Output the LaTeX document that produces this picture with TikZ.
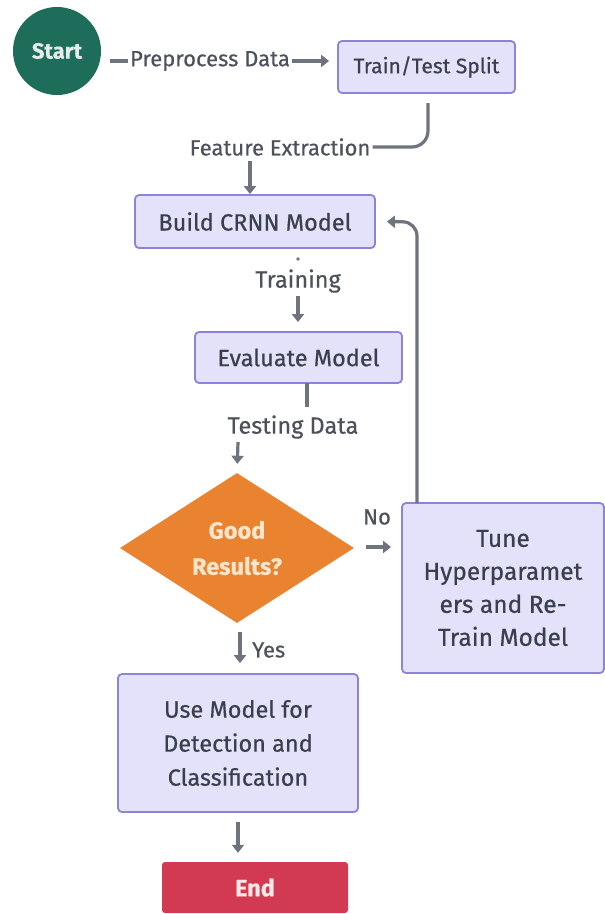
\documentclass[tikz,border=0pt]{standalone}
\usepackage{fontspec}
\setmainfont{Fira Sans}[FakeBold=0.5]
\usetikzlibrary{arrows.meta,shapes.geometric}
\definecolor{boxfill}{HTML}{E4E2FA}
\definecolor{boxdraw}{HTML}{8C84D8}
\definecolor{txt}{HTML}{3A3F4C}
\definecolor{lbl}{HTML}{4C515B}
\definecolor{arr}{HTML}{6E737D}
\definecolor{teal}{HTML}{1E6D5B}
\definecolor{orng}{HTML}{E9832F}
\definecolor{crim}{HTML}{D23A52}
\begin{document}
\begin{tikzpicture}[x=1pt,y=-1pt,
  box/.style={draw=boxdraw,fill=boxfill,line width=1.8pt,rounded corners=4pt,text=txt,font=\fontsize{23.5}{34}\selectfont,align=center,inner sep=0pt},
  lab/.style={text=lbl,font=\fontsize{22}{26}\selectfont,inner sep=2pt},
  conn/.style={draw=arr,line width=3.2pt},
  arrw/.style={conn,-{Triangle[length=8pt,width=12pt]}}]
\useasboundingbox (0,0) rectangle (605,914);
% nodes
\node[circle,fill=teal,minimum size=88pt,inner sep=0pt,text=white!88!teal,font=\fontsize{22}{26}\selectfont\bfseries] (start) at (57,51) {Start};
\node[lab] (pp) at (210,61) {Preprocess Data};
\node[box,minimum width=177pt,minimum height=52pt,font=\fontsize{21}{26}\selectfont] (tts) at (426.5,67) {Train/Test Split};
\node[lab] (fe) at (280,147) {Feature Extraction};
\node[box,minimum width=240pt,minimum height=53pt] (build) at (255,221.5) {Build CRNN Model};
\node[lab,font=\fontsize{23.5}{26}\selectfont] (tr) at (298,281) {Training};
\node[box,minimum width=207pt,minimum height=51pt] (eval) at (298.5,357.5) {Evaluate Model};
\node[lab,font=\fontsize{23.5}{26}\selectfont] (td) at (293,427) {Testing Data};
\node[diamond,fill=orng,minimum width=234pt,minimum height=150pt,inner sep=0pt,aspect=1.56,text=white!80!orange,font=\fontsize{23.5}{36}\selectfont\bfseries,align=center] (dec) at (237,548) {Good\\Results?};
\node[box,minimum width=202pt,minimum height=170pt,font=\fontsize{24.5}{33}\selectfont] (tune) at (503,588) {Tune\\Hyperparamet\\ers and Re-\\Train Model};
\node[lab] (no) at (377,517) {No};
\node[lab,anchor=west] (yes) at (250,650) {Yes};
\node[box,minimum width=240pt,minimum height=138pt] (use) at (238,743) {Use Model for\\Detection and\\Classification};
\node[fill=crim,rounded corners=3pt,minimum width=186pt,minimum height=51pt,inner sep=0pt,text=white!88!crim,font=\fontsize{23.5}{26}\selectfont\bfseries] (end) at (255,887.5) {End};
% connectors
\coordinate (c1) at (110,61);
\draw[conn] (c1) -- (pp.west);
\draw[arrw,shorten >=8pt] (pp.east) -- (tts.west |- pp.east);
\coordinate (c2) at (428,103);
\draw[conn,rounded corners=16pt] (c2) -- (428,147) -- (fe.east);
\coordinate (c3) at (250,161);
\draw[arrw] (c3) -- (c3 |- build.north);
\fill[arr] (298,259) circle (1.8pt);
\coordinate (c4) at (298,296);
\draw[arrw,shorten >=9pt] (c4) -- (c4 |- eval.north);
\coordinate (c5) at (307,383);
\draw[conn] (c5) -- (307,407);
\coordinate (c6) at (238,442);
\draw[arrw,shorten >=9pt] (c6) -- (dec.north);
\coordinate (c7) at (366,547);
\draw[arrw,shorten >=10pt] (c7) -- (tune.west |- c7);
\coordinate (c8) at (417,503);
\draw[arrw,rounded corners=14pt,shorten >=11pt] (c8) -- (417,222) -- (build.east);
\coordinate (c9) at (240,632);
\draw[arrw,shorten >=10pt] (c9) -- (c9 |- use.north);
\coordinate (c10) at (238,822);
\draw[arrw,shorten >=9pt] (c10) -- (c10 |- end.north);
\end{tikzpicture}
\end{document}
